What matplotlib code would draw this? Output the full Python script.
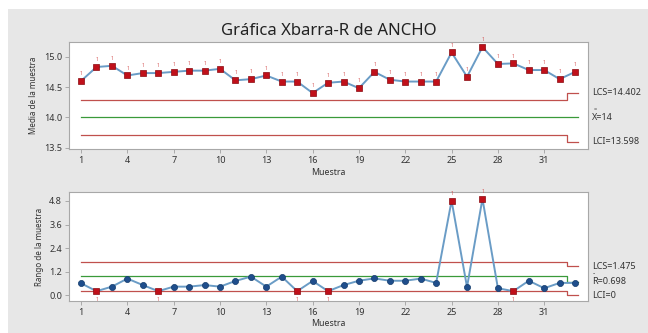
import numpy as np
import matplotlib.pyplot as plt
from matplotlib.patches import Rectangle

plt.rcParams['font.family'] = ['Noto Sans', 'DejaVu Sans']

# Subgroup means and ranges
muestra = np.arange(1, 34)
medias = [14.60, 14.83, 14.85, 14.69, 14.73, 14.73, 14.75, 14.77, 14.77, 14.80,
          14.61, 14.63, 14.69, 14.59, 14.59, 14.40, 14.57, 14.59, 14.48, 14.75,
          14.62, 14.59, 14.59, 14.59, 15.07, 14.67, 15.16, 14.88, 14.89, 14.78,
          14.78, 14.63, 14.75]
rangos = [0.61, 0.21, 0.44, 0.85, 0.52, 0.21, 0.44, 0.44, 0.52, 0.44,
          0.73, 0.95, 0.44, 0.95, 0.21, 0.73, 0.21, 0.52, 0.74, 0.86,
          0.74, 0.74, 0.85, 0.63, 4.81, 0.42, 4.91, 0.36, 0.21, 0.74,
          0.36, 0.63, 0.63]

# Control limits (last subgroup has a different size, hence the step)
lim_x = [1, 32.5, 32.5, 33.2]
lcs_x = [14.29, 14.29, 14.402, 14.402]
cen_x = [14.0, 14.0, 14.0, 14.0]
lci_x = [13.71, 13.71, 13.598, 13.598]
lcs_r = [1.69, 1.69, 1.475, 1.475]
cen_r = [0.97, 0.97, 0.698, 0.698]
lci_r = [0.23, 0.23, 0.0, 0.0]

xticks = [1, 4, 7, 10, 13, 16, 19, 22, 25, 28, 31]

LINEA = '#6a9cc6'
ROJO_LIM = '#c0504d'
VERDE = '#3a9a3a'
ROJO_PT = '#c0101a'
AZUL_PT = '#1f4e8c'

fig = plt.figure(figsize=(6.48, 3.33), dpi=100)
fig.patch.set_facecolor('white')
fig.patches.append(Rectangle((8 / 648, 0), 1, 1 - 9 / 333, transform=fig.transFigure,
                             facecolor='#e7e7e7', edgecolor='none', zorder=-10))

ax1 = fig.add_axes([0.1065, 0.5526, 0.801, 0.3213])
ax2 = fig.add_axes([0.1065, 0.0970, 0.801, 0.3255])


def estilo(ax):
    ax.set_facecolor('white')
    for s in ax.spines.values():
        s.set_color('#a8a8a8')
        s.set_linewidth(0.8)
    ax.tick_params(labelsize=6.5, colors='#a0a0a0', labelcolor='#333333',
                   length=3, width=0.6, pad=2)
    ax.set_xlim(0.22, 33.84)
    ax.set_xticks(xticks)
    ax.set_xlabel('Muestra', fontsize=6.3, color='#333333', labelpad=2)


def etiqueta(ax, texto, y):
    ax.annotate(texto, (1.008, y), xycoords=('axes fraction', 'data'),
                ha='left', va='center', fontsize=6.5, color='#333333')


# Xbar chart
estilo(ax1)
ax1.set_ylim(13.477, 15.243)
ax1.set_yticks([13.5, 14.0, 14.5, 15.0])
ax1.set_yticklabels(['13.5', '14.0', '14.5', '15.0'])
ax1.plot(lim_x, lcs_x, color=ROJO_LIM, lw=0.9)
ax1.plot(lim_x, lci_x, color=ROJO_LIM, lw=0.9)
ax1.plot(lim_x, cen_x, color=VERDE, lw=0.9)
ax1.plot(muestra, medias, color=LINEA, lw=1.4, zorder=3)
ax1.plot(muestra, medias, ls='none', marker='s', ms=4.4, mfc=ROJO_PT,
         mec='#8a0a10', mew=0.5, zorder=4)
for m, v in zip(muestra, medias):
    ax1.annotate('1', (m, v), xytext=(0, 3.5), textcoords='offset points',
                 ha='center', va='bottom', fontsize=3.2, color='#d04040')
ax1.set_ylabel('Media de la muestra', fontsize=5.8, color='#333333', labelpad=4)
ax1.set_title('Gráfica Xbarra-R de ANCHO', fontsize=12, color='#222222', pad=5)

etiqueta(ax1, 'LCS=14.402', lcs_x[-1])
etiqueta(ax1, 'X=14', cen_x[-1])
ax1.annotate('=', (1.010, cen_x[-1] + 0.13), xycoords=('axes fraction', 'data'),
             ha='left', va='center', fontsize=4, color='#333333')
etiqueta(ax1, 'LCI=13.598', lci_x[-1])

# R chart
estilo(ax2)
ax2.set_ylim(-0.275, 5.24)
ax2.set_yticks([0.0, 1.2, 2.4, 3.6, 4.8])
ax2.set_yticklabels(['0.0', '1.2', '2.4', '3.6', '4.8'])
ax2.plot(lim_x, lcs_r, color=ROJO_LIM, lw=0.9)
ax2.plot(lim_x, lci_r, color=ROJO_LIM, lw=0.9)
ax2.plot(lim_x, cen_r, color=VERDE, lw=0.9)
ax2.plot(muestra, rangos, color=LINEA, lw=1.4, zorder=3)
for m, r in zip(muestra, rangos):
    if r > lcs_r[0] or r < lci_r[0]:
        ax2.plot(m, r, marker='s', ms=4.4, mfc=ROJO_PT, mec='#8a0a10', mew=0.5, zorder=4)
        if r > lcs_r[0]:
            ax2.annotate('1', (m, r), xytext=(0, 3.5), textcoords='offset points',
                         ha='center', va='bottom', fontsize=3.2, color='#d04040')
        else:
            ax2.annotate('1', (m, r), xytext=(0, -4), textcoords='offset points',
                         ha='center', va='top', fontsize=3.2, color='#d04040')
    else:
        ax2.plot(m, r, marker='o', ms=4.4, mfc=AZUL_PT, mec='#123a6a', mew=0.5, zorder=4)
ax2.set_ylabel('Rango de la muestra', fontsize=5.8, color='#333333', labelpad=4)

etiqueta(ax2, 'LCS=1.475', lcs_r[-1])
etiqueta(ax2, 'R=0.698', cen_r[-1])
ax2.annotate('-', (1.009, cen_r[-1] + 0.38), xycoords=('axes fraction', 'data'),
             ha='left', va='center', fontsize=5, color='#333333')
etiqueta(ax2, 'LCI=0', lci_r[-1])

fig.savefig('out.png', dpi=100, facecolor=fig.get_facecolor())
